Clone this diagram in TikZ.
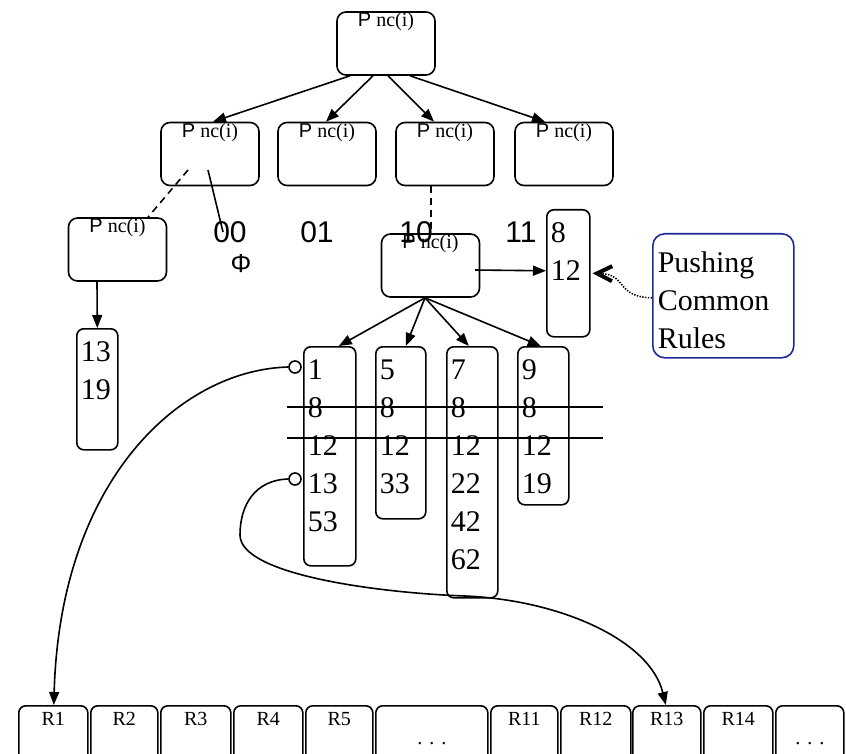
\documentclass[tikz,border=0pt]{standalone}
\usepackage{fontspec}
\setmainfont{Liberation Serif}
\newfontfamily\arialfont{Liberation Sans}
\usepackage{tikz}
\usetikzlibrary{arrows.meta,calc,positioning}
\definecolor{pushblue}{RGB}{30,40,150}
\newcommand{\pnc}[2]{\node[pbox] (#1) at (#2) {};
  \node[ptext] (#1t) at ([yshift=-1pt]#1.north) {{\arialfont P} nc(i)};}
\newcommand{\rulelist}[5]{\node[lbox,minimum width=#3pt,minimum height=#4pt] (#1) at (#2) {};
  \node[ltext] (#1t) at ($(#1.north west)+(4,13)$) {#5};}

\begin{document}
\begin{tikzpicture}[x=1pt,y=-1pt,line width=1.6pt,
  >={Triangle[length=13pt,width=10pt]},
  pbox/.style={draw,rounded corners=9pt,minimum width=98pt,minimum height=63pt,inner sep=0},
  ptext/.style={anchor=north,inner sep=0,font=\fontsize{20}{22}\selectfont},
  lbox/.style={draw,rounded corners=7pt,anchor=north west,inner sep=0},
  ltext/.style={anchor=north west,inner sep=0,align=left,font=\fontsize{30}{38}\selectfont},
  code/.style={inner sep=0,font=\arialfont\fontsize{30}{32}\selectfont},
  rbox/.style={draw,rounded corners=7pt,anchor=north west,minimum height=70pt,inner sep=0},
  rtext/.style={anchor=north,inner sep=0,text height=14pt,text depth=0pt,font=\fontsize{20}{22}\selectfont}]
\useasboundingbox (0,0) rectangle (846,754);
\clip (0,0) rectangle (846,754);

% trie nodes
\pnc{top}{386,43.5}
\pnc{b1}{210,154}\pnc{b2}{327,154}\pnc{b3}{445,154}\pnc{b4}{564,154}
\pnc{bl}{117.5,249.5}\pnc{bm}{430.5,265.5}

\draw[->] ([xshift=-36pt]top.south) -- ([xshift=3pt]b1.north);
\draw[->] ([xshift=-13pt]top.south) -- ([xshift=-1pt]b2.north);
\draw[->] ([xshift=2pt]top.south) -- ([xshift=-11pt]b3.north);
\draw[->] ([xshift=24pt]top.south) -- ([xshift=-19pt]b4.north);

\node[code] (k00) at (230,232) {00};
\node[code] (k01) at (317,232) {01};
\node[code] (k10) at (416,232) {10};
\node[code] (k11) at (521,232) {11};
\node[code,font=\arialfont\fontsize{26}{28}\selectfont] (phi) at (241,264) {Φ};

\draw[dash pattern=on 7pt off 5pt] ($(b1.center)+(-22,16)$) -- ([xshift=30.5pt]bl.north);
\draw ($(b1.center)+(-2,16)$) -- ([xshift=-7pt]k00.center);
\draw[dash pattern=on 7pt off 5pt] ([xshift=-14pt]b3.south) -- ([xshift=0.5pt]bm.north);

% rule lists
\rulelist{ll}{76,328}{41}{121}{13\\19}
\draw[->] ([xshift=-20.5pt]bl.south) -- (ll.north);

\rulelist{cm}{546,209}{43}{127}{8\\12}
\draw[->] ($(bm.center)+(44.5,4.5)$) -- ([yshift=2.5pt]cm.west);

\node[lbox,draw=pushblue,rounded corners=12pt,minimum width=141pt,minimum height=124pt] (push) at (652,233) {};
\node[ltext] (pusht) at ($(push.north west)+(5,18)$) {Pushing\\Common\\Rules};
\draw[line width=1.6pt,dash pattern=on 1.4pt off 1.4pt,-{Straight Barb[length=15pt,width=15pt,line width=4pt]}]
  ([yshift=-2pt]push.west) .. controls (615,297) and (628,274) .. ([xshift=2pt]cm.east);

\rulelist{l1}{303,346}{52}{219}{1\\8\\12\\13\\53}
\rulelist{l2}{375,346}{50}{172}{5\\8\\12\\33}
\rulelist{l3}{446,346}{51}{251}{7\\8\\12\\22\\42\\62}
\rulelist{l4}{517,346}{51}{158}{9\\8\\12\\19}
\draw[->] ([xshift=-5.5pt]bm.south) -- ([xshift=9pt]l1.north);
\draw[->] ([xshift=-5.5pt]bm.south) -- ([xshift=5pt]l2.north);
\draw[->] ([xshift=-5.5pt]bm.south) -- ([xshift=-3.5pt]l3.north);
\draw[->] ([xshift=-5.5pt]bm.south) -- ([xshift=-2.5pt]l4.north);

\coordinate (s1) at (287,407); \coordinate (s2) at (603,407);
\coordinate (s3) at (287,438); \coordinate (s4) at (603,438);
\draw (s1) -- (s2); \draw (s3) -- (s4);

% rule table
\foreach \a/\w/\t/\d/\n in {18/69/R1/6/R1, 90/67/R2/6/R2, 160/70/R3/6/R3, 233/69/R4/6/R4,
    305/67/R5/6/R5, 375/112/{.\hspace{7pt}.\hspace{7pt}.}/25/d1, 490/67/R11/6/R11,
    560/70/R12/6/R12, 632/68/R13/6/R13, 703/69/R14/6/R14, 775/68/{.\hspace{7pt}.\hspace{7pt}.}/25/d2}{
  \node[rbox,minimum width=\w pt] (\n) at (\a,705) {};
  \node[rtext] (\n t) at ($(\n.north)+(0,\d)$) {\t};
}

\node[circle,draw,fill=white,minimum size=12pt,inner sep=0] (h1) at (295,367) {};
\node[circle,draw,fill=white,minimum size=12pt,inner sep=0] (h2) at (295,479) {};
\draw[->] (h1.west) .. controls (180,370) and (60,480) .. ([xshift=0.5pt]R1.north);
\draw[->] (h2.west) .. controls (255,480) and (240,505) .. (240,535)
  .. controls (240,575) and (380,593) .. (465,596)
  .. controls (560,600) and (650,640) .. ([xshift=-1pt]R13.north);
\end{tikzpicture}
\end{document}
